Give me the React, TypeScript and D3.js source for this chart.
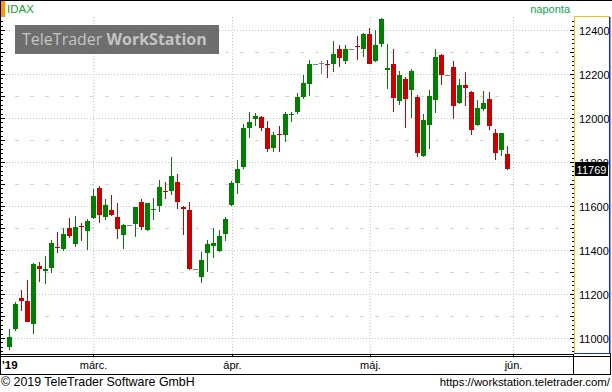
import React from "react";
import * as d3 from "d3";

// IDAX daily candles, Feb - May 2019
const opens = [
  10962, 11042, 11183, 11170, 11067, 11329, 11308, 11321, 11415, 11408,
  11501, 11430, 11511, 11489, 11547, 11683, 11553, 11583, 11551, 11471,
  11514, 11521, 11620, 11491, 11585, 11603, 11670, 11671, 11711, 11597,
  11583, 11315, 11280, 11389, 11421, 11398, 11476, 11608, 11708, 11780,
  11956, 11998, 12006, 11956, 11867, 11929, 11926, 12015, 12030, 12097,
  12157, 12247, 12254, 12247, 12248, 12315, 12262, 12314, 12329, 12317,
  12383, 12262, 12339, 12221, 12247, 12080, 12179, 12130, 12097, 11830,
  11971, 12085, 12288, 12197, 12233, 12071, 12151, 12120, 11971, 12044,
  12088, 11933, 11857, 11838,
];
const highs = [
  11042, 11165, 11220, 11265, 11341, 11347, 11374, 11447, 11483, 11501,
  11547, 11556, 11524, 11542, 11679, 11692, 11633, 11651, 11615, 11520,
  11514, 11600, 11633, 11615, 11638, 11720, 11711, 11826, 11747, 11601,
  11620, 11315, 11391, 11447, 11501, 11492, 11551, 11715, 11811, 11974,
  12029, 12023, 12011, 11988, 11938, 11965, 12029, 12029, 12115, 12197,
  12265, 12247, 12262, 12264, 12351, 12333, 12333, 12314, 12374, 12388,
  12411, 12401, 12456, 12339, 12315, 12215, 12188, 12224, 12106, 12020,
  12129, 12315, 12292, 12197, 12260, 12179, 12210, 12124, 12083, 12124,
  12120, 11951, 11935, 11874,
];
const lows = [
  10950, 11035, 11126, 11076, 11021, 11258, 11248, 11298, 11389, 11398,
  11459, 11417, 11442, 11403, 11542, 11526, 11539, 11558, 11453, 11408,
  11514, 11462, 11494, 11489, 11539, 11576, 11635, 11654, 11589, 11471,
  11312, 11315, 11253, 11303, 11367, 11392, 11444, 11603, 11656, 11771,
  11912, 11965, 11944, 11847, 11847, 11847, 11892, 11983, 12021, 12089,
  12103, 12247, 12204, 12185, 12212, 12235, 12248, 12314, 12267, 12280,
  12248, 12257, 12326, 12135, 12030, 12062, 11958, 12003, 11826, 11826,
  11862, 12026, 12153, 12197, 11998, 12067, 12057, 11926, 11967, 12035,
  11948, 11812, 11830, 11767,
];
const closes = [
  11005, 11156, 11171, 11076, 11338, 11314, 11315, 11433, 11412, 11474,
  11467, 11506, 11506, 11533, 11647, 11562, 11606, 11562, 11498, 11515,
  11514, 11597, 11506, 11614, 11588, 11688, 11667, 11738, 11621, 11589,
  11315, 11315, 11359, 11429, 11433, 11465, 11542, 11706, 11770, 11956,
  11983, 12012, 11957, 11861, 11924, 11926, 12020, 12020, 12097, 12160,
  12247, 12247, 12254, 12244, 12292, 12276, 12315, 12314, 12326, 12383,
  12248, 12333, 12451, 12229, 12094, 12197, 12089, 12215, 11844, 11992,
  12101, 12279, 12198, 12197, 12057, 12151, 12139, 11948, 12047, 12070,
  11967, 11844, 11933, 11769,
];

const months = ["márc.", "ápr.", "máj.", "jún."];
const monthIndex = [14, 37, 60, 84];
const priceTicks = [11000, 11200, 11400, 11600, 11800, 12000, 12200, 12400];
const halfTicks = [11100, 11300, 11500, 11700, 11900, 12100, 12300];
const lastPrice = 11769;

const W = 612;
const H = 392;
const plotRight = 574;
const plotTop = 17;
const plotBottom = 354;

const GREEN = "#008000";
const RED = "#c80000";
const GREY = "#808080";
const FONT = "'Liberation Sans', Arial, sans-serif";

export default function App() {
  const x = d3.scaleLinear().domain([0, 83]).range([9.5, 507.5]);
  const y = d3.scaleLinear().domain([11000, 12400]).range([338.5, 30.5]);
  const py = (v: number) => Math.round(y(v) - 0.5) + 0.5;

  const candles = opens.map((o, i) => ({
    i,
    o,
    h: highs[i],
    l: lows[i],
    c: closes[i],
  }));

  const axisTicks = d3.range(10940, 12460, 20).filter((v) => y(v) > plotTop && y(v) < plotBottom);

  return (
    <svg
      width={W}
      height={H}
      style={{ position: "absolute", left: 0, top: 0, background: "#fff" }}
      fontFamily={FONT}
    >
      <rect x={0} y={0} width={W} height={H} fill="#fff" />

      {/* grid */}
      {halfTicks.map((v) => (
        <line key={"h" + v} x1={0} x2={plotRight} y1={py(v)} y2={py(v)}
          stroke="#d4d4d4" strokeDasharray="4,11" />
      ))}
      {priceTicks.map((v) => (
        <line key={"g" + v} x1={0} x2={plotRight} y1={py(v)} y2={py(v)}
          stroke="#c4c4c4" strokeDasharray="1,2" />
      ))}
      {monthIndex.map((m) => (
        <line key={"m" + m} x1={Math.round(x(m)) + 0.5} x2={Math.round(x(m)) + 0.5}
          y1={plotTop} y2={plotBottom} stroke="#c4c4c4" strokeDasharray="1,2" />
      ))}

      {/* watermark */}
      <rect x={15} y={25} width={204} height={29} fill="#555" fillOpacity={0.85} />
      <text x={22} y={45} fontFamily="'Open Sans', sans-serif" fontSize={16} fill="#c4c4c4">
        TeleTrader <tspan fontWeight="bold">WorkStation</tspan>
      </text>

      {/* candles */}
      {candles.map((d) => {
        const col = d.c > d.o ? GREEN : d.c < d.o ? RED : GREY;
        const cx = Math.round(x(d.i) - 0.5);
        const top = Math.round(y(Math.max(d.o, d.c)));
        const bot = Math.round(y(Math.min(d.o, d.c)));
        const hi = Math.round(y(d.h));
        const lo = Math.round(y(d.l));
        return (
          <g key={d.i}>
            {lo > hi && <rect x={cx} y={hi} width={1} height={lo - hi} fill={col} />}
            <rect x={cx - 2} y={top} width={5} height={Math.max(1, bot - top)} fill={col} />
          </g>
        );
      })}

      {/* left ticks */}
      {axisTicks.map((v) => (
        <line key={"lt" + v} x1={0} x2={v % 100 === 0 ? 5 : 3} y1={py(v)} y2={py(v)} stroke="#000" />
      ))}
      {/* right ticks */}
      {axisTicks.map((v) => (
        <line key={"rt" + v} x1={plotRight - (v % 100 === 0 ? 4 : 2)} x2={plotRight} y1={py(v)} y2={py(v)} stroke="#000" />
      ))}

      {/* header */}
      <rect x={0} y={0} width={5} height={17} fill="#ff9900" />
      <text x={7} y={13} fontSize={11.5} fill="#14a034">IDAX</text>
      <text x={570} y={13} fontSize={11} fill="#14a050" textAnchor="end">naponta</text>

      {/* right axis */}
      <line x1={plotRight + 0.5} x2={plotRight + 0.5} y1={plotTop} y2={plotBottom} stroke="#f0c020" />
      <line x1={plotRight} x2={610} y1={plotTop - 0.5} y2={plotTop - 0.5} stroke="#f0c020" />
      <line x1={609.75} x2={609.75} y1={plotTop} y2={plotBottom} stroke="#1030d0" strokeWidth={1.5} />
      <line x1={plotRight} x2={611} y1={plotBottom - 0.5} y2={plotBottom - 0.5} stroke="#1030d0" />
      {priceTicks.map((v) => (
        <text key={"l" + v} x={579} y={y(v) + 4} fontSize={11} fill="#000">{v}</text>
      ))}
      <rect x={575} y={py(lastPrice) - 7.5} width={33} height={14} fill="#000" />
      <text x={591.5} y={py(lastPrice) + 4} fontSize={11} fill="#fff" textAnchor="middle">{lastPrice}</text>

      {/* frame */}
      <line x1={0} x2={W} y1={0.5} y2={0.5} stroke="#000" />
      <line x1={0.5} x2={0.5} y1={0} y2={374} stroke="#000" />
      <line x1={0} x2={plotRight} y1={354.5} y2={354.5} stroke="#000" />
      <line x1={0} x2={611} y1={356.5} y2={356.5} stroke="#000" />
      <line x1={0} x2={611} y1={374.5} y2={374.5} stroke="#000" />
      <line x1={573.5} x2={573.5} y1={354} y2={375} stroke="#000" />
      <line x1={610.5} x2={610.5} y1={354} y2={375} stroke="#000" />
      {monthIndex.map((m) => (
        <line key={"mt" + m} x1={Math.round(x(m)) + 0.5} x2={Math.round(x(m)) + 0.5}
          y1={354} y2={357} stroke="#000" />
      ))}

      {/* x labels */}
      <text x={2} y={369} fontSize={11.5} fontWeight="bold" fill="#000">'19</text>
      {months.map((m, k) => (
        <text key={m} x={Math.round(x(monthIndex[k])) + 0.5} y={369} fontSize={11}
          textAnchor="middle" fill="#000">{m}</text>
      ))}

      {/* footer */}
      <text x={1} y={386} fontSize={12.4} fill="#000">© 2019 TeleTrader Software GmbH</text>
      <text x={610} y={386} fontSize={11.4} fill="#000" textAnchor="end">https://workstation.teletrader.com/</text>
    </svg>
  );
}
